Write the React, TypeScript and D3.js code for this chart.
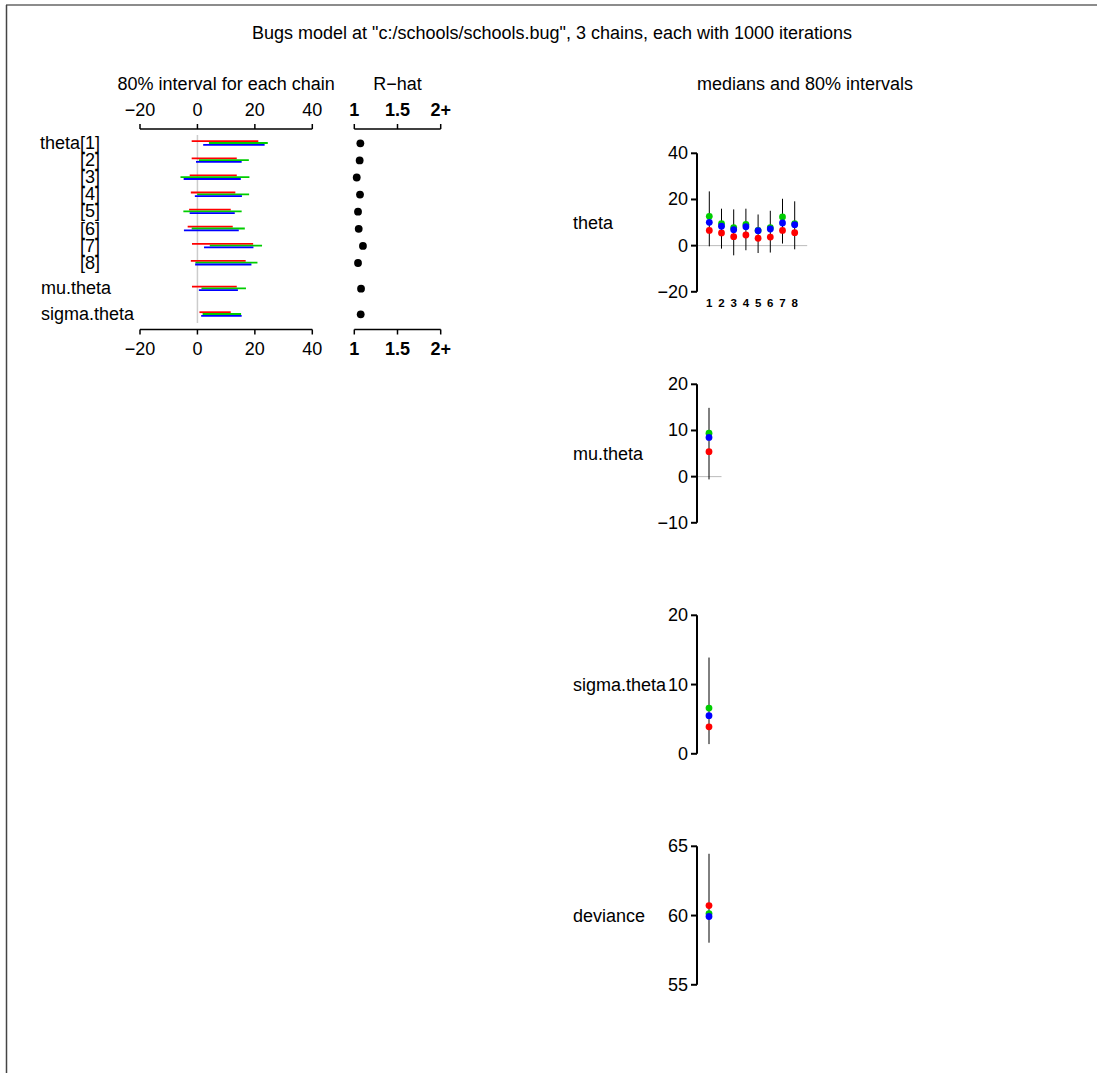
import React from "react";
import * as d3 from "d3";

// ---------- data ----------
const TITLE = 'Bugs model at "c:/schools/schools.bug", 3 chains, each with 1000 iterations';
const rowLabels = ["theta[1]", "[2]", "[3]", "[4]", "[5]", "[6]", "[7]", "[8]", "mu.theta", "sigma.theta"];
const rowPos = [1, 2, 3, 4, 5, 6, 7, 8, 9.5, 11];

const redLo = [-2.0, -2.0, -2.7, -2.3, -2.9, -3.4, -1.9, -2.3, -1.9, 0.7];
const redHi = [21.2, 13.7, 13.7, 13.2, 11.6, 12.3, 19.4, 16.8, 13.7, 11.6];
const greenLo = [4.0, 0.5, -5.9, -0.1, -4.9, -2.0, 4.3, -0.7, 1.4, 1.8];
const greenHi = [24.5, 17.9, 18.1, 18.0, 15.4, 16.5, 22.5, 20.9, 16.9, 15.2];
const blueLo = [2.0, -0.5, -4.8, -0.9, -2.7, -4.7, 2.3, -0.8, 0.5, 1.3];
const blueHi = [23.4, 15.4, 15.1, 15.5, 13.0, 14.4, 19.5, 18.8, 14.1, 15.4];
const rhat = [1.07, 1.062, 1.028, 1.066, 1.043, 1.051, 1.1, 1.043, 1.078, 1.074];

const intervalTicks = [-20, 0, 20, 40];
const intervalTickLabels = ["\u221220", "0", "20", "40"];
const rhatTicks = [1, 1.5, 2];
const rhatTickLabels = ["1", "1.5", "2+"];

const panelNames = ["theta", "mu.theta", "sigma.theta", "deviance"];
const panelDomains: [number, number][] = [[-20, 40], [-10, 20], [0, 20], [55, 65]];
const panelTicks = [[-20, 0, 20, 40], [-10, 0, 10, 20], [0, 10, 20], [55, 60, 65]];
const panelRed = [[6.6, 5.5, 3.9, 4.6, 3.2, 3.7, 6.6, 5.6], [5.4], [3.9], [60.72]];
const panelGreen = [[12.7, 9.5, 7.8, 9.2, 6.6, 7.8, 12.4, 9.5], [9.4], [6.6], [60.14]];
const panelBlue = [[10.1, 8.4, 6.9, 8.2, 6.5, 7.2, 9.8, 9.1], [8.5], [5.5], [59.93]];
const panelLo = [[-0.3, -1.3, -4.2, -2.0, -3.2, -3.0, 0.9, -1.6], [-0.6], [1.4], [58.04]];
const panelHi = [[23.5, 16.0, 15.7, 16.0, 13.5, 15.1, 20.3, 19.2], [14.9], [13.9], [64.46]];

const RED = "#ff0000";
const GREEN = "#00cd00";
const BLUE = "#0000ff";
const FONT = "'Liberation Sans', Arial, sans-serif";

const fmt = (v: number) => (v < 0 ? "\u2212" + Math.abs(v) : String(v));

export default function App() {
  const W = 1097;
  const H = 1073;

  // left panel scales
  const xI = d3.scaleLinear().domain([-20, 40]).range([140, 312.3]);
  const yRow = d3.scaleLinear().domain([1, 8]).range([143, 262.7]);
  const xR = d3.scaleLinear().domain([1, 2]).range([354.3, 440.7]);
  const topAxisY = 129;
  const botAxisY = 329.5;
  const fs = 18;

  const chains = [
    { lo: redLo, hi: redHi, c: RED, dy: -1.8 },
    { lo: greenLo, hi: greenHi, c: GREEN, dy: 0 },
    { lo: blueLo, hi: blueHi, c: BLUE, dy: 1.8 },
  ];

  const axisX = 697;

  return (
    <svg
      width={W}
      height={H}
      style={{ position: "absolute", left: 0, top: 0, background: "#fff" }}
      fontFamily={FONT}
    >
      <rect x={0} y={0} width={W} height={H} fill="#fff" />
      {/* frame */}
      <line x1={6} y1={5} x2={W} y2={5} stroke="#666" strokeWidth={1.5} />
      <line x1={6.5} y1={5} x2={6.5} y2={H} stroke="#444" strokeWidth={1.5} />

      <text x={552} y={39} fontSize={fs} textAnchor="middle">{TITLE}</text>

      {/* ---------- left: intervals per chain ---------- */}
      <text x={(xI(-20) + xI(40)) / 2} y={90} fontSize={fs} textAnchor="middle">80% interval for each chain</text>
      <text x={(xR(1) + xR(2)) / 2} y={90} fontSize={fs} textAnchor="middle">R{"\u2212"}hat</text>

      {/* zero line */}
      <line x1={xI(0)} x2={xI(0)} y1={135} y2={323} stroke="#cccccc" strokeWidth={1.5} />

      {[topAxisY, botAxisY].map((ay, k) => (
        <g key={"ax" + k}>
          <line x1={xI(-20)} x2={xI(40)} y1={ay} y2={ay} stroke="#000" strokeWidth={1.5} />
          {intervalTicks.map((t, i) => (
            <g key={t}>
              <line x1={xI(t)} x2={xI(t)} y1={ay} y2={k === 0 ? ay - 5 : ay + 5} stroke="#000" strokeWidth={1.5} />
              <text x={xI(t)} y={k === 0 ? 116 : 355} fontSize={fs} textAnchor="middle">{intervalTickLabels[i]}</text>
            </g>
          ))}
          <line x1={xR(1)} x2={xR(2)} y1={ay} y2={ay} stroke="#000" strokeWidth={1.5} />
          {rhatTicks.map((t, i) => (
            <g key={t}>
              <line x1={xR(t)} x2={xR(t)} y1={ay} y2={k === 0 ? ay - 5 : ay + 5} stroke="#000" strokeWidth={1.5} />
              <text x={xR(t)} y={k === 0 ? 116 : 355} fontSize={fs} fontWeight="bold" textAnchor="middle">{rhatTickLabels[i]}</text>
            </g>
          ))}
        </g>
      ))}

      {rowLabels.map((lab, i) => {
        const y = yRow(rowPos[i]);
        const bracket = lab.startsWith("[") || lab.startsWith("theta");
        return (
          <text
            key={lab}
            x={bracket ? 100 : 41}
            y={y}
            fontSize={fs}
            textAnchor={bracket ? "end" : "start"}
            dominantBaseline="central"
          >
            {lab}
          </text>
        );
      })}

      {chains.map((ch, c) => (
        <g key={"ch" + c}>
          {rowPos.map((p, i) => (
            <line
              key={i}
              x1={xI(ch.lo[i])}
              x2={xI(ch.hi[i])}
              y1={yRow(p) + ch.dy}
              y2={yRow(p) + ch.dy}
              stroke={ch.c}
              strokeWidth={1.8}
            />
          ))}
        </g>
      ))}

      {rhat.map((r, i) => (
        <circle key={"rh" + i} cx={xR(r)} cy={yRow(rowPos[i]) + 0.3} r={3.9} fill="#000" />
      ))}

      {/* ---------- right: medians and 80% intervals ---------- */}
      <text x={805} y={90} fontSize={fs} textAnchor="middle">medians and 80% intervals</text>

      {panelNames.map((name, k) => {
        const top = 153.3 + k * 231;
        const bottom = top + 138.5;
        const y = d3.scaleLinear().domain(panelDomains[k]).range([bottom, top]);
        const n = panelRed[k].length;
        const x = d3.scaleLinear().domain([1, 8]).range([709.3, 794.7]);
        const px = (i: number) => (n === 1 ? 709 : x(i + 1));
        const zeroEnd = px(n - 1) + 12.5;
        const [d0, d1] = panelDomains[k];
        return (
          <g key={name}>
            <text x={573} y={(top + bottom) / 2} fontSize={fs} dominantBaseline="central">{name}</text>
            {0 > d0 && 0 < d1 && (
              <line x1={axisX} x2={zeroEnd} y1={y(0)} y2={y(0)} stroke="#bbbbbb" strokeWidth={1} />
            )}
            <line x1={axisX} x2={axisX} y1={top} y2={bottom} stroke="#000" strokeWidth={2} />
            {panelTicks[k].map((t) => (
              <g key={t}>
                <line x1={axisX - 6} x2={axisX} y1={y(t)} y2={y(t)} stroke="#000" strokeWidth={2} />
                <text x={688} y={y(t)} fontSize={fs} textAnchor="end" dominantBaseline="central">{fmt(t)}</text>
              </g>
            ))}
            {panelLo[k].map((lo, i) => (
              <line key={"iv" + i} x1={px(i)} x2={px(i)} y1={y(lo)} y2={y(panelHi[k][i])} stroke="#000" strokeWidth={1} />
            ))}
            {panelRed[k].map((v, i) => (
              <circle key={"r" + i} cx={px(i)} cy={y(v)} r={3.4} fill={RED} />
            ))}
            {panelGreen[k].map((v, i) => (
              <circle key={"g" + i} cx={px(i)} cy={y(v)} r={3.4} fill={GREEN} />
            ))}
            {panelBlue[k].map((v, i) => (
              <circle key={"b" + i} cx={px(i)} cy={y(v)} r={3.4} fill={BLUE} />
            ))}
            {n > 1 &&
              panelRed[k].map((_, i) => (
                <text key={"ix" + i} x={px(i)} y={307} fontSize={11.5} fontWeight="bold" textAnchor="middle">
                  {i + 1}
                </text>
              ))}
          </g>
        );
      })}
    </svg>
  );
}
